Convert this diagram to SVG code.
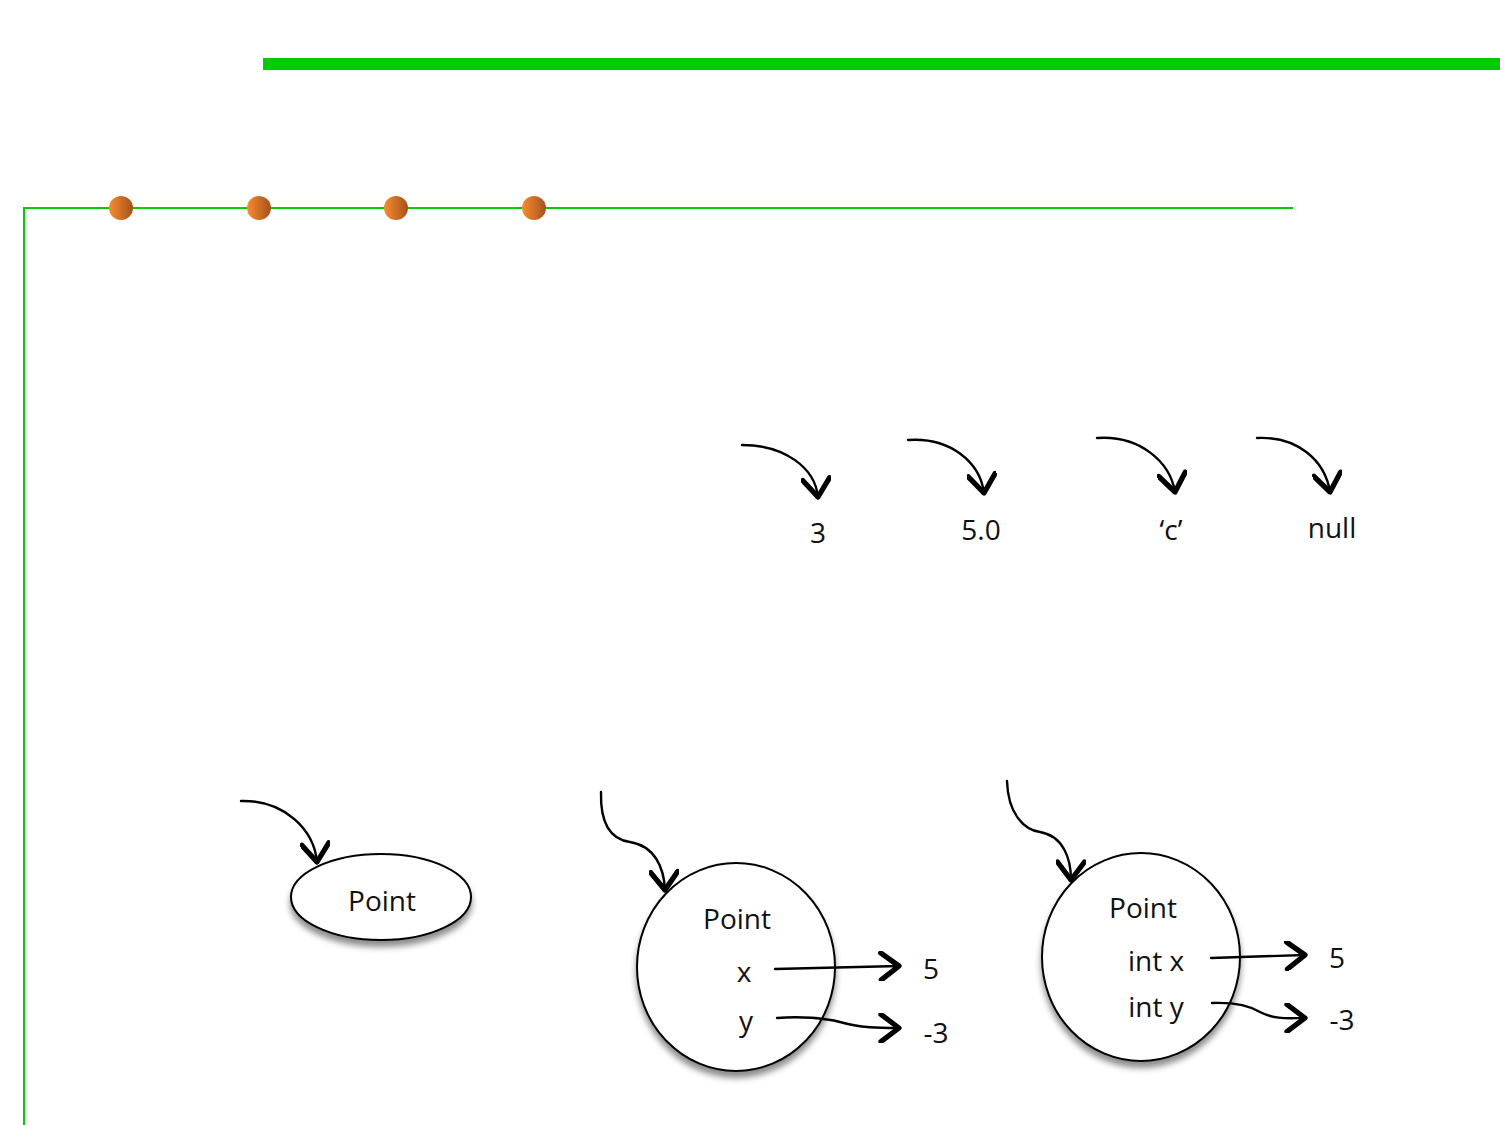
<svg xmlns="http://www.w3.org/2000/svg" width="1500" height="1125" viewBox="0 0 1500 1125">
<style>
.t{font-family:"Open Sans","DejaVu Sans",sans-serif;font-size:28px;fill:#111;text-anchor:middle}
.c{fill:none;stroke:#000;stroke-width:2.4;stroke-linecap:round}
.n{fill:#fff;stroke:#000;stroke-width:2}
</style>
<defs>
<linearGradient id="dot" x1="0" y1="0" x2="1" y2="0">
<stop offset="0" stop-color="#F98B30"/>
<stop offset="1" stop-color="#A4521B"/>
</linearGradient>
<filter id="sh" x="-20%" y="-20%" width="140%" height="150%">
<feDropShadow dx="0" dy="6" stdDeviation="3" flood-color="#000" flood-opacity="0.45"/>
</filter>
<marker id="ah" markerUnits="userSpaceOnUse" markerWidth="30" markerHeight="30" refX="14" refY="10" orient="auto" viewBox="0 0 20 20">
<path d="M2,1 L14,10 L2,19" fill="none" stroke="#000" stroke-width="3.5" stroke-linecap="round" stroke-linejoin="round"/>
</marker>
</defs>
<g id="frame">
<rect x="263" y="58" width="1237" height="12" fill="#00CC00"/>
<path d="M24,1125 V208 H1293" fill="none" stroke="#00CC00" stroke-width="2"/>
<circle cx="121" cy="208" r="12" fill="url(#dot)"/>
<circle cx="259" cy="208" r="12" fill="url(#dot)"/>
<circle cx="396" cy="208" r="12" fill="url(#dot)"/>
<circle cx="534" cy="208" r="12" fill="url(#dot)"/>
</g>
<g id="node-3"><text class="t" x="818" y="543">3</text></g>
<g id="node-5.0"><text class="t" x="981" y="540">5.0</text></g>
<g id="node-c"><text class="t" x="1171" y="540">‘c’</text></g>
<g id="node-null"><text class="t" x="1332" y="538">null</text></g>
<g id="node-point1">
<ellipse class="n" cx="381" cy="897" rx="90" ry="43" filter="url(#sh)"/>
<text class="t" x="382" y="911">Point</text>
</g>
<g id="node-point2">
<ellipse class="n" cx="736" cy="967" rx="99" ry="104" filter="url(#sh)"/>
<text class="t" x="737" y="929">Point</text>
<text class="t" x="744" y="982">x</text>
<text class="t" x="746" y="1031">y</text>
</g>
<g id="node-5a"><text class="t" x="931" y="979">5</text></g>
<g id="node-m3a"><text class="t" x="936" y="1043">-3</text></g>
<g id="node-point3">
<ellipse class="n" cx="1141" cy="957" rx="99" ry="104" filter="url(#sh)"/>
<text class="t" x="1143" y="918">Point</text>
<text class="t" x="1156" y="971">int x</text>
<text class="t" x="1156" y="1017">int y</text>
</g>
<g id="node-5b"><text class="t" x="1337" y="968">5</text></g>
<g id="node-m3b"><text class="t" x="1342" y="1030">-3</text></g>
<g id="connectors">
<path class="c" d="M742,445 C785,445 815,468 818,497" marker-end="url(#ah)"/>
<path class="c" d="M908,440 C950,437 980,462 984,493" marker-end="url(#ah)"/>
<path class="c" d="M1097,438 C1140,435 1170,462 1175,492" marker-end="url(#ah)"/>
<path class="c" d="M1257,438 C1297,436 1325,460 1330,492" marker-end="url(#ah)"/>
<path class="c" d="M241,801 C285,800 314,830 317,862" marker-end="url(#ah)"/>
<path class="c" d="M601,792 C600,830 615,840 630,842 C655,846 664,868 665,890" marker-end="url(#ah)"/>
<path class="c" d="M1007,781 C1008,815 1025,830 1040,832 C1063,836 1071,858 1071,880" marker-end="url(#ah)"/>
<path class="c" d="M775,969 L899,966" marker-end="url(#ah)"/>
<path class="c" d="M777,1018 C800,1016 825,1018 840,1022 C860,1028 880,1028 899,1028" marker-end="url(#ah)"/>
<path class="c" d="M1211,958 L1305,955" marker-end="url(#ah)"/>
<path class="c" d="M1212,1003 C1235,1002 1250,1006 1260,1012 C1275,1020 1290,1018 1305,1018" marker-end="url(#ah)"/>
</g>
</svg>
